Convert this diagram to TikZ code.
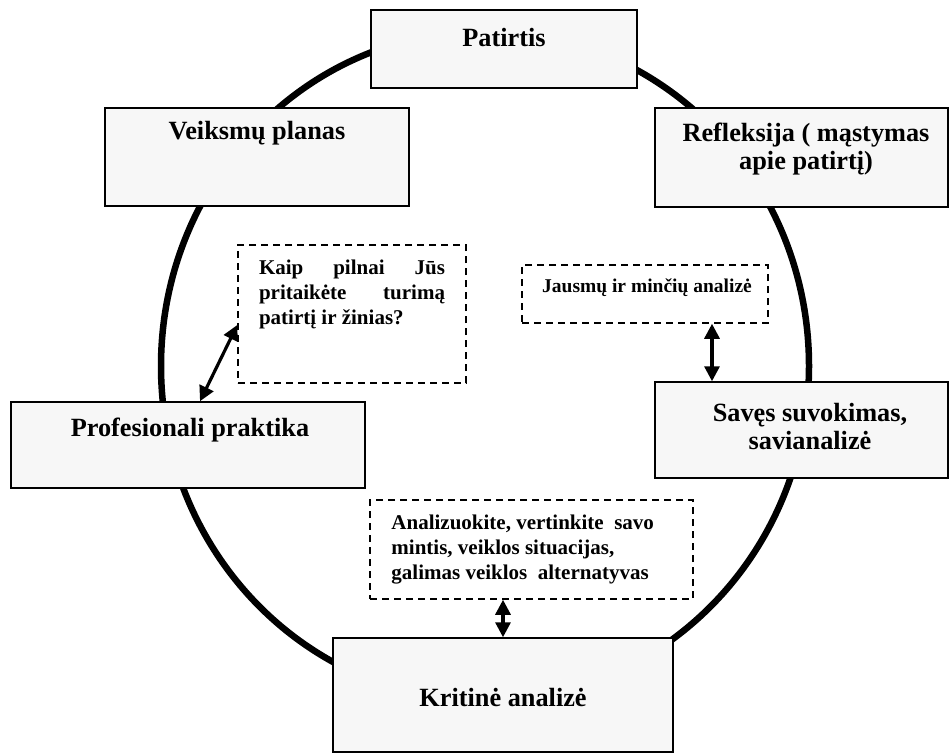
\documentclass[tikz,border=0pt]{standalone}
\usepackage{fontspec}
\setmainfont{Liberation Serif}
\usetikzlibrary{arrows.meta}

\begin{document}
\begin{tikzpicture}[x=1pt,y=-1pt,
    mainbox/.style={draw,line width=1.5pt,fill=black!3,inner sep=0pt},
    notebox/.style={draw,dash pattern=on 7pt off 5pt,line width=1.5pt,inner sep=0pt},
    maintext/.style={font=\bfseries\fontsize{26.3}{28}\selectfont,align=center,inner sep=0pt},
    notetext/.style={font=\bfseries\fontsize{21}{25}\selectfont,inner sep=0pt},
    link/.style={line width=3.2pt,{Triangle[length=15pt,width=15pt]}-{Triangle[length=15pt,width=15pt]}}]
  \useasboundingbox (0,0) rectangle (950,753);
  \draw[line width=6.5pt] (485,366) ellipse [x radius=324pt, y radius=335pt];
  \node[mainbox,minimum width=266pt,minimum height=78pt] (pat) at (504,49) {};
  \node[mainbox,minimum width=304pt,minimum height=98pt] (plan) at (257,157) {};
  \node[mainbox,minimum width=293pt,minimum height=99pt] (refl) at (801.5,157.5) {};
  \node[mainbox,minimum width=354pt,minimum height=86pt] (prof) at (188,445) {};
  \node[mainbox,minimum width=293pt,minimum height=96pt] (savi) at (801.5,430) {};
  \node[mainbox,minimum width=340pt,minimum height=114pt] (krit) at (503,695) {};
  \node[notebox,minimum width=228pt,minimum height=138pt] (kaip) at (352,314) {};
  \node[notebox,minimum width=246pt,minimum height=58pt] (jaus) at (645,294) {};
  \node[notebox,minimum width=323pt,minimum height=99pt] (anal) at (531.5,549.5) {};
  \node[maintext] (pat-txt) at ([yshift=11pt]pat.center) {Patirtis};
  \node[maintext] (plan-txt) at ([yshift=24pt]plan.center) {Veiksmų planas};
  \node[maintext] (refl-txt) at ([xshift=4.5pt,yshift=8.5pt]refl.center)
    {Refleksija ( mąstymas\\apie patirtį)};
  \node[maintext] (prof-txt) at ([xshift=2pt,yshift=15pt]prof.center) {Profesionali praktika};
  \node[maintext] (savi-txt) at ([xshift=8.5pt,yshift=4pt]savi.center)
    {Savęs suvokimas,\\savianalizė};
  \node[maintext] (krit-txt) at ([yshift=-2pt]krit.center) {Kritinė analizė};
  \node[notetext,text width=186pt,align=justify] (kaip-txt) at ([yshift=20pt]kaip.center)
    {Kaip pilnai Jūs\linebreak pritaikėte turimą\linebreak patirtį ir žinias?};
  \node[notetext,font=\bfseries\fontsize{19.5}{23}\selectfont] (jaus-txt)
    at ([xshift=2pt,yshift=6pt]jaus.center) {Jausmų ir minčių analizė};
  \node[notetext,align=left,anchor=west] (anal-txt) at ([xshift=22pt]anal.west)
    {Analizuokite, vertinkite~ savo\\mintis, veiklos situacijas,\\galimas veiklos~ alternatyvas};
  \draw[link] ([yshift=-11pt]kaip.west) -- ([xshift=12pt]prof.north);
  \draw[link] ([xshift=67pt]jaus.south) -- ([xshift=67pt]jaus.south |- savi.north);
  \draw[link] (anal.south -| krit.north) -- (krit.north);
\end{tikzpicture}
\end{document}
